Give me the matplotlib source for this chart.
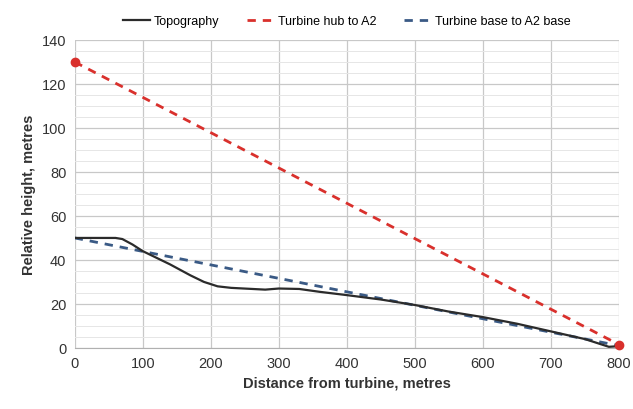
import matplotlib
matplotlib.use("Agg")
import matplotlib.pyplot as plt
from matplotlib.ticker import MultipleLocator

matplotlib.rcParams.update({"font.family": ["Liberation Sans", "DejaVu Sans"]})

# topography profile
topo_x = [0, 60, 70, 85, 100, 140, 170, 190, 210, 230, 280, 300, 330, 360, 400, 450, 500,
          550, 600, 650, 700, 750, 785, 800]
topo_y = [50, 50, 49.5, 47, 44, 38, 33, 30, 28, 27.3, 26.5, 27, 26.8, 25.5, 24, 22, 19.5,
          16.5, 14, 11, 7.5, 4, 0.5, 0.8]

hub_x = [0, 800]
hub_y = [130, 1.5]

base_x = [0, 800]
base_y = [50, 1]

fig = plt.figure(figsize=(6.33, 4.1), dpi=100)
ax = fig.add_axes([0.118, 0.149, 0.860, 0.751])

ax.plot(topo_x, topo_y, color="#2b2b2b", lw=1.6, label="Topography", zorder=3)
ax.plot(hub_x, hub_y, color="#d9302c", lw=2, ls=(0, (3, 2.5)), label="Turbine hub to A2", zorder=4)
ax.plot(hub_x, hub_y, "o", color="#d9302c", ms=6, zorder=5, clip_on=False)
ax.plot(base_x, base_y, color="#3a5a85", lw=2, ls=(0, (3, 2.5)), label="Turbine base to A2 base", zorder=2)

ax.set_xlim(0, 800)
ax.set_ylim(0, 140)
ax.xaxis.set_major_locator(MultipleLocator(100))
ax.yaxis.set_major_locator(MultipleLocator(20))
ax.yaxis.set_minor_locator(MultipleLocator(5))
ax.grid(which="major", color="#c8c8c8", lw=0.9)
ax.grid(which="minor", axis="y", color="#e6e6e6", lw=0.7)
ax.tick_params(which="both", length=0, labelsize=10.5, colors="#333333", pad=6)
for s in ax.spines.values():
    s.set_visible(False)
ax.spines["bottom"].set_visible(True)
ax.spines["bottom"].set_color("#b0b0b0")

ax.set_xlabel("Distance from turbine, metres", fontsize=10.5, fontweight="bold", color="#333333")
ax.set_ylabel("Relative height, metres", fontsize=10.5, fontweight="bold", color="#333333")

ax.legend(loc="lower center", bbox_to_anchor=(0.5, 1.005), ncol=3, frameon=False,
          fontsize=9, handlelength=2.2, columnspacing=2.2, handletextpad=0.3)

fig.savefig("out.png", dpi=100)
